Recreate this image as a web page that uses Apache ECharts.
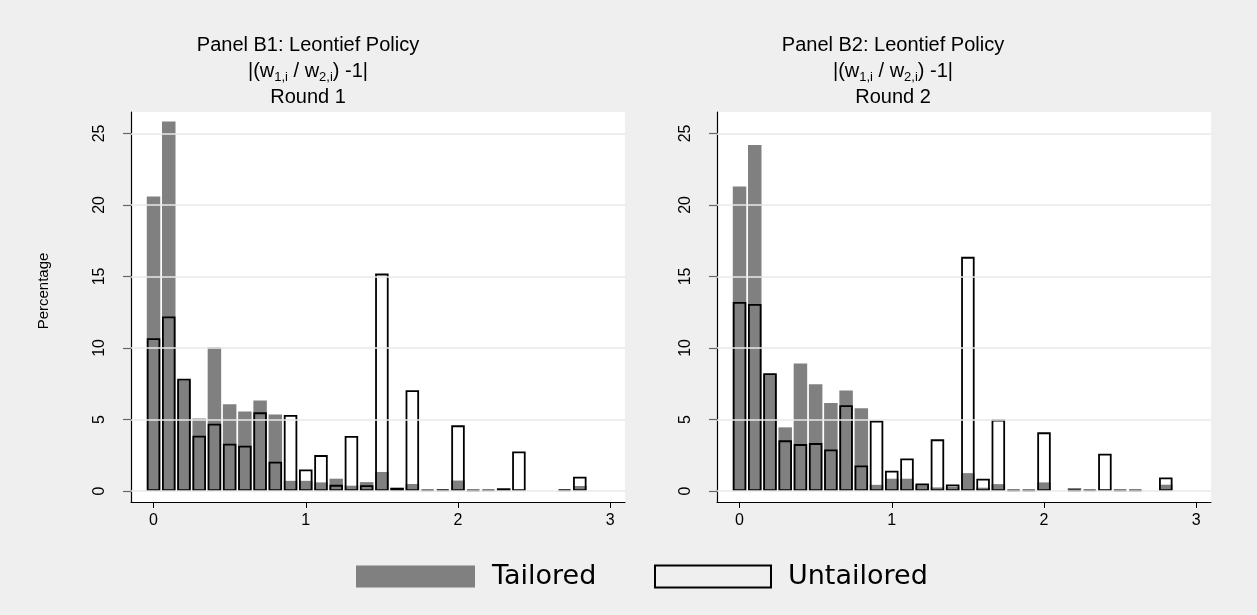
<!DOCTYPE html>
<html>
<head>
<meta charset="utf-8">
<title>Leontief Policy</title>
<script src="https://cdn.jsdelivr.net/npm/echarts@6/dist/echarts.min.js"></script>
<style>
  html, body { margin: 0; padding: 0; background: #efefef; }
  #chart { width: 1257px; height: 615px; }
</style>
</head>
<body>
<div id="chart"></div>
<script>
// Histogram bins of |(w1,i / w2,i) - 1| (bin centres, width 0.1)
const bins = [0, 0.1, 0.2, 0.3, 0.4, 0.5, 0.6, 0.7, 0.8, 0.9,
              1.0, 1.1, 1.2, 1.3, 1.4, 1.5, 1.6, 1.7, 1.8, 1.9,
              2.0, 2.1, 2.2, 2.3, 2.4, 2.5, 2.6, 2.7, 2.8];

// Percentage of subjects per bin, Round 1
const tailoredR1   = [20.6, 25.83, 7.75, 5.06, 10.05, 6.07, 5.55, 6.32, 5.34, 0.71,
                      0.71, 0.6, 0.86, 0.37, 0.62, 1.33, 0.2, 0.49, null, null,
                      0.73, null, null, 0.12, null, null, null, null, 0.35];
const untailoredR1 = [10.68, 12.2, 7.85, 3.86, 4.71, 3.3, 3.16, 5.5, 2.04, 5.32,
                      1.5, 2.51, 0.43, 3.84, 0.4, 15.2, 0.23, 7.05, 0.08, 0.1,
                      4.59, 0.07, 0.08, 0.19, 2.76, null, null, 0.1, 1.0];

// Percentage of subjects per bin, Round 2
const tailoredR2   = [21.29, 24.2, 8.13, 4.45, 8.92, 7.47, 6.16, 7.03, 5.78, 0.43,
                      0.86, 0.86, 0.41, 0.25, 0.3, 1.25, 0.23, 0.48, null, null,
                      0.6, null, 0.21, null, null, null, null, null, 0.44];
const untailoredR2 = [13.21, 13.07, 8.24, 3.54, 3.28, 3.35, 2.9, 6.0, 1.78, 4.92,
                      1.41, 2.27, 0.52, 3.61, 0.46, 16.37, 0.86, 4.99, 0.07, 0.07,
                      4.1, null, 0.07, 0.09, 2.6, 0.07, 0.07, null, 0.94];

const xTicks = [0, 1, 2, 3];
const yTicks = [0, 5, 10, 15, 20, 25];
const panelTitles = ['Panel B1: Leontief Policy', 'Panel B2: Leontief Policy'];
const roundLabels = ['Round 1', 'Round 2'];
const seriesNames = ['Tailored', 'Untailored'];
const yName = 'Percentage';

const panels = [
  { tailored: tailoredR1, untailored: untailoredR1 },
  { tailored: tailoredR2, untailored: untailoredR2 }
];

const gridLefts = [131, 717];
const titleCentres = [308, 893];
const gridTop = 112, gridWidth = 494, gridHeight = 390;

function pairs(values) {
  return bins.map((b, i) => [b, values[i]]).filter(d => d[1] != null);
}

const grids = [], xAxes = [], yAxes = [], series = [], graphics = [];
const titleFont = '20px "Liberation Sans", Arial, sans-serif';
const tickFont = { color: '#000', fontFamily: 'Liberation Sans', fontSize: 16 };

panels.forEach((p, k) => {
  grids.push({
    left: gridLefts[k], top: gridTop, width: gridWidth, height: gridHeight,
    show: true, backgroundColor: '#ffffff', borderWidth: 0
  });
  xAxes.push({
    type: 'value', gridIndex: k, min: -0.148, max: 3.097,
    axisLine: { show: true, onZero: false, lineStyle: { color: '#000', width: 1 } },
    axisTick: { show: true, customValues: xTicks, length: 6, lineStyle: { color: '#000' } },
    axisLabel: Object.assign({ customValues: xTicks, margin: 11 }, tickFont),
    splitLine: { show: false }
  });
  yAxes.push({
    type: 'value', gridIndex: k, min: -0.77, max: 26.5,
    axisLine: { show: true, onZero: false, lineStyle: { color: '#000', width: 1.2 } },
    axisTick: { show: true, customValues: yTicks, length: 8, lineStyle: { color: '#666', width: 1.2 } },
    axisLabel: Object.assign({ customValues: yTicks, rotate: 90, margin: 23 }, tickFont),
    splitLine: { show: false }
  });
  // horizontal reference lines behind the bars
  series.push({
    type: 'line', xAxisIndex: k, yAxisIndex: k, data: [], z: 1, silent: true,
    markLine: {
      silent: true, symbol: ['none', 'none'], label: { show: false },
      lineStyle: { color: '#e8e8e8', width: 1.5, type: 'solid' },
      emphasis: { disabled: true },
      data: yTicks.map(v => ({ yAxis: v }))
    }
  });
  series.push({
    type: 'bar', name: seriesNames[0], xAxisIndex: k, yAxisIndex: k,
    barWidth: 13.5, barGap: '-100%', z: 2,
    itemStyle: { color: '#808080' },
    data: pairs(p.tailored)
  });
  series.push({
    type: 'bar', name: seriesNames[1], xAxisIndex: k, yAxisIndex: k,
    barWidth: 13.5, barGap: '-100%', z: 3,
    itemStyle: { color: 'rgba(0,0,0,0)', borderColor: '#000', borderWidth: 1.8 },
    data: pairs(p.untailored)
  });

  const cx = titleCentres[k];
  graphics.push({
    type: 'text', x: cx, y: 45, silent: true,
    style: { text: panelTitles[k], font: titleFont, fill: '#000', align: 'center', verticalAlign: 'middle' }
  });
  graphics.push({
    type: 'text', x: cx, y: 71, silent: true,
    style: {
      text: '|(w{s|1,i} / w{s|2,i}) -1|', font: titleFont, fill: '#000',
      align: 'center', verticalAlign: 'middle',
      rich: { s: { fontSize: 13, fontFamily: 'Liberation Sans', fill: '#000', padding: [13, 0, 0, 0] } }
    }
  });
  graphics.push({
    type: 'text', x: cx, y: 97, silent: true,
    style: { text: roundLabels[k], font: titleFont, fill: '#000', align: 'center', verticalAlign: 'middle' }
  });
});

graphics.push({
  type: 'text', x: 44, y: 291, rotation: Math.PI / 2, silent: true,
  style: { text: yName, font: '15px "Liberation Sans", Arial, sans-serif', fill: '#000', align: 'center', verticalAlign: 'middle' }
});

const legendText = { fontFamily: 'DejaVu Sans', fontSize: 27, color: '#000', padding: [0, 0, 0, 12] };

const chart = echarts.init(document.getElementById('chart'), null, { renderer: 'canvas' });
chart.setOption({
  animation: false,
  backgroundColor: '#efefef',
  grid: grids,
  xAxis: xAxes,
  yAxis: yAxes,
  legend: [
    { data: [seriesNames[0]], left: 356, top: 563, padding: 0, icon: 'rect',
      itemWidth: 119, itemHeight: 22, selectedMode: false, textStyle: legendText },
    { data: [seriesNames[1]], left: 654, top: 563, padding: 0, icon: 'rect',
      itemWidth: 116, itemHeight: 22, selectedMode: false, textStyle: legendText }
  ],
  graphic: graphics,
  series: series
});
</script>
</body>
</html>
